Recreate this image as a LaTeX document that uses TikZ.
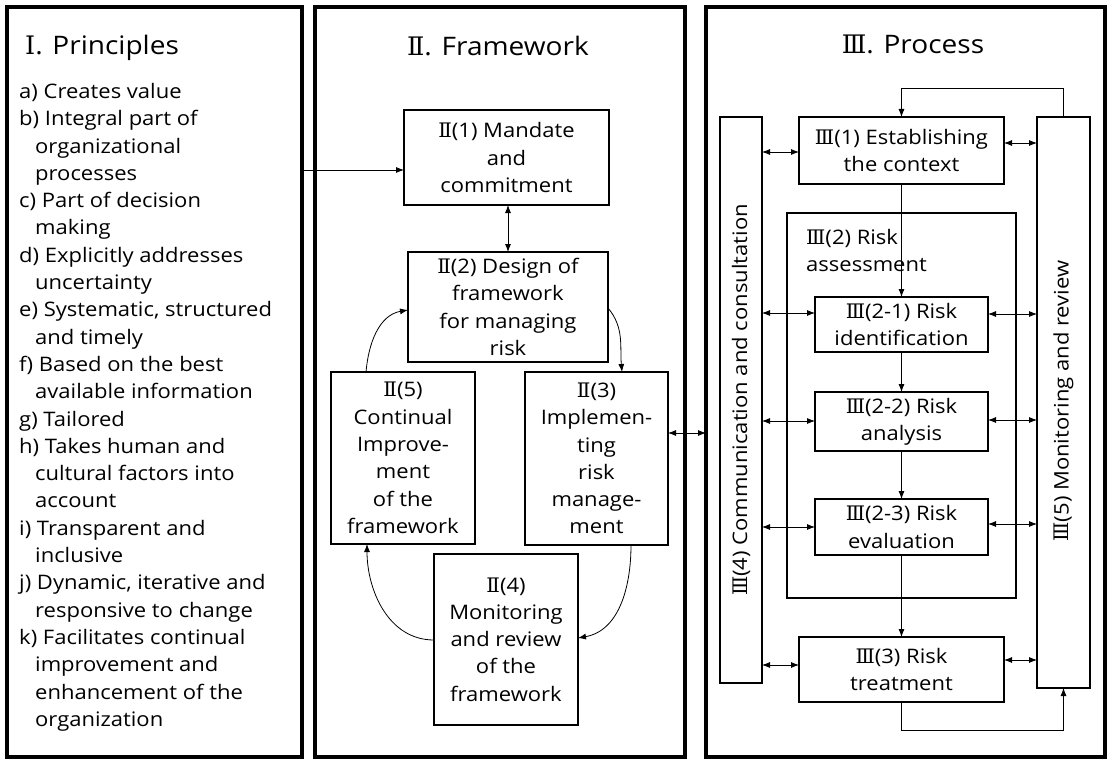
\documentclass[tikz,border=0pt]{standalone}
\usepackage{fontspec}
\setmainfont[FakeStretch=1.1]{Open Sans}
\newfontfamily\rn{DejaVu Serif}
\usetikzlibrary{arrows.meta}
\newcommand\RI{{\rn Ⅰ}}
\newcommand\RII{{\rn Ⅱ}}
\newcommand\RIII{{\rn Ⅲ}}
\begin{document}
\begin{tikzpicture}[x=1pt,y=-1pt,
  panel/.style={draw,line width=3.5pt,inner sep=0pt,outer sep=0pt},
  box/.style={draw,line width=2.8pt,inner sep=0pt,outer sep=0pt,align=center,font=\fontsize{20}{27.3}\selectfont},
  bar/.style={draw,line width=2.8pt,inner sep=0pt,outer sep=0pt},
  lbl/.style={inner sep=0pt,font=\fontsize{20}{27.3}\selectfont},
  ttl/.style={inner sep=0pt,font=\fontsize{25.5}{30}\selectfont},
  conn/.style={line width=0.8pt,-{Latex[length=8pt,width=6pt]}},
  dconn/.style={line width=0.8pt,{Latex[length=8pt,width=6pt]}-{Latex[length=8pt,width=6pt]}}]
\useasboundingbox (0,0) rectangle (1111,765);
\fill[white] (0,0) rectangle (1111,765);
% panels
\node[panel,minimum width=295pt,minimum height=750pt] (P1) at (154.5,382) {};
\node[panel,minimum width=370pt,minimum height=750pt] (P2) at (500,382) {};
\node[panel,minimum width=399pt,minimum height=750pt] (P3) at (905.5,382) {};
% titles
\node[ttl,anchor=base west] (T1) at (25,55) {\RI. Principles};
\node[ttl,anchor=base] (T2) at (498,56) {\RII. Framework};
\node[ttl,anchor=base] (T3) at (913,54) {\RIII. Process};
% principles list
\node[lbl,anchor=north west,align=left] (L) at (19,83) {%
a) Creates value\\
b) Integral part of\\
\hspace*{16pt}organizational\\
\hspace*{16pt}processes\\
c) Part of decision\\
\hspace*{16pt}making\\
d) Explicitly addresses\\
\hspace*{16pt}uncertainty\\
e) Systematic, structured\\
\hspace*{16pt}and timely\\
f) Based on the best\\
\hspace*{16pt}available information\\
g) Tailored\\
h) Takes human and\\
\hspace*{16pt}cultural factors into\\
\hspace*{16pt}account\\
i) Transparent and\\
\hspace*{16pt}inclusive\\
j) Dynamic, iterative and\\
\hspace*{16pt}responsive to change\\
k) Facilitates continual\\
\hspace*{16pt}improvement and\\
\hspace*{16pt}enhancement of the\\
\hspace*{16pt}organization};
% framework boxes
\node[box,minimum width=205pt,minimum height=95pt] (F1) at (506.5,157.5) {\RII(1) Mandate\\and\\commitment};
\node[box,minimum width=200pt,minimum height=110pt] (F2) at (508,307) {\RII(2) Design of\\framework\\for managing\\risk};
\node[box,minimum width=144pt,minimum height=172pt] (F5) at (403,458) {\RII(5)\\Continual\\Improve-\\ment\\of the\\framework};
\node[box,minimum width=143pt,minimum height=173pt] (F3) at (596.5,458.5) {\RII(3)\\Implemen-\\ting\\risk\\manage-\\ment};
\node[box,minimum width=144pt,minimum height=171pt] (F4) at (506,639.5) {\RII(4)\\Monitoring\\and review\\of the\\framework};
% framework connectors
\draw[conn] (P1.east |- 0,170) -- (F1.west |- 0,170);
\draw[dconn] (F1.south -| 508,0) -- (F2.north -| 508,0);
\draw[conn] (F2.east |- 0,308) to[out=-50,in=95] (F3.north -| 622,0);
\draw[conn] (F3.south -| 631,0) to[out=-90,in=10] (F4.east |- 0,638);
\draw[conn] (F4.west |- 0,640) to[out=180,in=-90] (F5.south -| 367,0);
\draw[conn] (F5.north -| 366,0) to[out=85,in=190] (F2.west |- 0,310);
\draw[dconn] (F3.east |- 0,433) -- (P3.west |- 0,433);
% process
\node[bar,minimum width=42pt,minimum height=566pt] (C4) at (741,400) {};
\node[bar,minimum width=53pt,minimum height=571pt] (M5) at (1063.5,402.5) {};
\node[lbl,rotate=90] (C4t) at (741,400) {\RIII(4) Communication and consultation};
\node[lbl,rotate=90] (M5t) at (1063.5,401) {\RIII(5) Monitoring and review};
\node[box,minimum width=229pt,minimum height=385pt] (Q2) at (901.5,405.5) {};
\node[lbl,anchor=north west,align=left] (Q2t) at (806,229) {\RIII(2) Risk\\assessment};
\node[box,fill=white,minimum width=205pt,minimum height=67pt] (Q1) at (901.5,150.5) {\RIII(1) Establishing\\the context};
\node[box,fill=white,minimum width=173pt,minimum height=55pt] (Q21) at (901.5,324.5) {\RIII(2-1) Risk\\identification};
\node[box,fill=white,minimum width=173pt,minimum height=59pt] (Q22) at (901.5,421.5) {\RIII(2-2) Risk\\analysis};
\node[box,fill=white,minimum width=173pt,minimum height=56pt] (Q23) at (901.5,527) {\RIII(2-3) Risk\\evaluation};
\node[box,fill=white,minimum width=205pt,minimum height=65pt] (Q3) at (901.5,669.5) {\RIII(3) Risk\\treatment};
% process connectors
\coordinate (fb) at (901.5,88);
\coordinate (lb) at (901.5,730);
\draw[conn] (M5.north) |- (fb) -- (Q1.north);
\draw[conn] (Q1.south) -- (Q21.north);
\draw[conn] (Q21.south) -- (Q22.north);
\draw[conn] (Q22.south) -- (Q23.north);
\draw[conn] (Q23.south) -- (Q3.north);
\draw[conn] (Q3.south) -- (lb) -| (M5.south);
\draw[dconn] (C4.east |- 0,152) -- (Q1.west |- 0,152);
\draw[dconn] (C4.east |- 0,313) -- (Q21.west |- 0,313);
\draw[dconn] (C4.east |- 0,421) -- (Q22.west |- 0,421);
\draw[dconn] (C4.east |- 0,527) -- (Q23.west |- 0,527);
\draw[dconn] (C4.east |- 0,665) -- (Q3.west |- 0,665);
\draw[dconn] (Q1.east |- 0,143) -- (M5.west |- 0,143);
\draw[dconn] (Q21.east |- 0,314) -- (M5.west |- 0,314);
\draw[dconn] (Q22.east |- 0,420) -- (M5.west |- 0,420);
\draw[dconn] (Q23.east |- 0,524) -- (M5.west |- 0,524);
\draw[dconn] (Q3.east |- 0,660) -- (M5.west |- 0,660);
\end{tikzpicture}
\end{document}
